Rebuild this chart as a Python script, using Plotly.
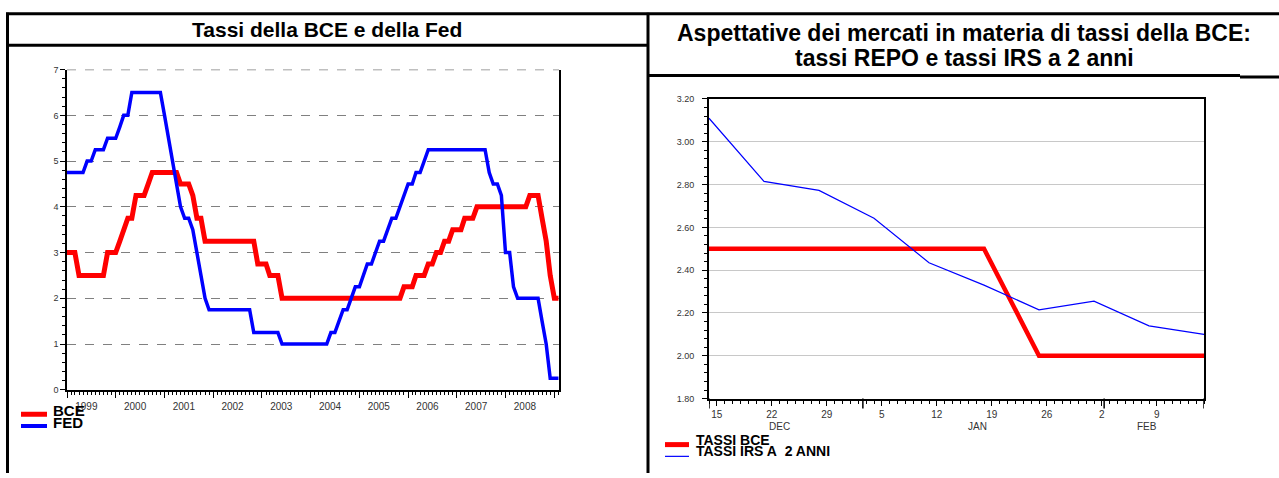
import pandas as pd
import plotly.graph_objects as go

W, H = 1279, 478

# ---------------- data: left chart (policy rates, level from month) ----------------
ecb_months = ["1999-01", "1999-04", "1999-11", "2000-02", "2000-03", "2000-04", "2000-06",
              "2000-09", "2000-10", "2001-05", "2001-08", "2001-09", "2001-11", "2002-12",
              "2003-03", "2003-06", "2005-12", "2006-03", "2006-06", "2006-08", "2006-10",
              "2006-12", "2007-03", "2007-06", "2008-07", "2008-10", "2008-11", "2008-12",
              "2009-01"]
ecb_levels = [3.00, 2.50, 3.00, 3.25, 3.50, 3.75, 4.25, 4.50, 4.75, 4.50, 4.25, 3.75, 3.25,
              2.75, 2.50, 2.00, 2.25, 2.50, 2.75, 3.00, 3.25, 3.50, 3.75, 4.00, 4.25, 3.75,
              3.25, 2.50, 2.00]

fed_months = ["1999-01", "1999-06", "1999-08", "1999-11", "2000-02", "2000-03", "2000-05",
              "2001-01", "2001-02", "2001-03", "2001-04", "2001-05", "2001-06", "2001-08",
              "2001-09", "2001-10", "2001-11", "2001-12", "2002-11", "2003-06", "2004-06",
              "2004-08", "2004-09", "2004-11", "2004-12", "2005-02", "2005-03", "2005-05",
              "2005-06", "2005-08", "2005-09", "2005-11", "2005-12", "2006-01", "2006-03",
              "2006-05", "2006-06", "2007-09", "2007-10", "2007-12", "2008-01", "2008-03",
              "2008-04", "2008-10", "2008-11", "2008-12"]
fed_levels = [4.75, 5.00, 5.25, 5.50, 5.75, 6.00, 6.50, 6.00, 5.50, 5.00, 4.50, 4.00, 3.75,
              3.50, 3.00, 2.50, 2.00, 1.75, 1.25, 1.00, 1.25, 1.50, 1.75, 2.00, 2.25, 2.50,
              2.75, 3.00, 3.25, 3.50, 3.75, 4.00, 4.25, 4.50, 4.75, 5.00, 5.25, 4.75, 4.50,
              4.25, 3.00, 2.25, 2.00, 1.50, 1.00, 0.25]

series_start, series_end = "1999-01", "2009-02"
left_ticks_y = [0, 1, 2, 3, 4, 5, 6, 7]

# ---------------- data: right chart (weekly) ----------------
week_dates = ["2008-12-14", "2008-12-21", "2008-12-28", "2009-01-04", "2009-01-11",
              "2009-01-18", "2009-01-25", "2009-02-01", "2009-02-08", "2009-02-15"]
tassi_bce = [2.50, 2.50, 2.50, 2.50, 2.50, 2.50, 2.00, 2.00, 2.00, 2.00]
tassi_irs = [3.11, 2.815, 2.773, 2.643, 2.435, 2.33, 2.215, 2.255, 2.14, 2.10]
week_label_dates = ["2008-12-15", "2008-12-22", "2008-12-29", "2009-01-05", "2009-01-12",
                    "2009-01-19", "2009-01-26", "2009-02-02", "2009-02-09"]
week_labels = ["15", "22", "29", "5", "12", "19", "26", "2", "9"]
month_labels = ["DEC", "JAN", "FEB"]


def monthly(months, levels):
    idx = pd.period_range(series_start, series_end, freq="M")
    s = pd.Series(levels, index=pd.PeriodIndex(months, freq="M"))
    s = s.reindex(idx).ffill()
    return [p.to_timestamp() for p in idx], s.values.tolist()


ecb_x, ecb_y = monthly(ecb_months, ecb_levels)
fed_x, fed_y = monthly(fed_months, fed_levels)


def X(px):
    return px / W


def Y(py):
    return 1 - py / H


FONT = "Liberation Sans, Arial, sans-serif"

fig = go.Figure()

fig.add_trace(go.Scatter(x=ecb_x, y=ecb_y, mode="lines", name="BCE",
                         line=dict(color="#ff0000", width=5), xaxis="x", yaxis="y",
                         showlegend=False))
fig.add_trace(go.Scatter(x=fed_x, y=fed_y, mode="lines", name="FED",
                         line=dict(color="#0000ff", width=3.5), xaxis="x", yaxis="y",
                         showlegend=False))

fig.add_trace(go.Scatter(x=week_dates, y=tassi_bce, mode="lines", name="TASSI BCE",
                         line=dict(color="#ff0000", width=4.5), xaxis="x2", yaxis="y2",
                         showlegend=False))
fig.add_trace(go.Scatter(x=week_dates, y=tassi_irs, mode="lines", name="TASSI IRS A 2 ANNI",
                         line=dict(color="#0000ff", width=1.2), xaxis="x2", yaxis="y2",
                         showlegend=False))

tickfont = dict(family=FONT, size=10, color="#333333")

fig.update_layout(
    width=W, height=H,
    margin=dict(l=0, r=0, t=0, b=0),
    paper_bgcolor="white", plot_bgcolor="white",
    font=dict(family=FONT),
    xaxis=dict(
        domain=[X(67), X(559)], anchor="y", type="date",
        range=["1999-01-01", "2009-02-05"],
        tick0="1999-01-01", dtick="M12", ticklabelmode="period", tickformat="%Y",
        ticklabelshift=-5,
        ticks="outside", ticklen=6, tickcolor="black", tickwidth=1,
        minor=dict(dtick="M1", ticks="outside", ticklen=3, tickcolor="black", showgrid=False),
        showgrid=False, showline=True, linecolor="black", linewidth=1.5,
        tickfont=tickfont, zeroline=False,
    ),
    yaxis=dict(
        domain=[Y(393), Y(66)], anchor="x", range=[0, 7],
        tickvals=left_ticks_y, ticks="outside", ticklen=5, tickcolor="black",
        minor=dict(dtick=0.2, ticks="outside", ticklen=3, tickcolor="black", showgrid=False),
        showgrid=True, gridcolor="#808080", griddash="dash", gridwidth=1,
        showline=True, linecolor="black", linewidth=1.5, mirror=True,
        tickfont=dict(family=FONT, size=9, color="#333333"), zeroline=False,
    ),
    xaxis2=dict(
        domain=[X(709), X(1204)], anchor="y2", type="date",
        range=["2008-12-14", "2009-02-15"],
        tickvals=week_label_dates, ticktext=week_labels,
        ticks="outside", ticklen=5, tickcolor="black",
        minor=dict(dtick=86400000, tick0="2008-12-14", ticks="outside", ticklen=3,
                   tickcolor="black", showgrid=False),
        showgrid=False, showline=True, linecolor="black", linewidth=2, mirror=True,
        tickfont=tickfont, zeroline=False,
    ),
    yaxis2=dict(
        domain=[Y(402), Y(96)], anchor="x2", range=[1.8, 3.2],
        dtick=0.2, tick0=1.8, tickformat=".2f",
        ticks="outside", ticklen=5, tickcolor="black",
        minor=dict(dtick=0.04, ticks="outside", ticklen=3, tickcolor="black", showgrid=False),
        showgrid=True, gridcolor="#c8c8c8", gridwidth=1,
        showline=True, linecolor="black", linewidth=2, mirror=True,
        tickfont=dict(family=FONT, size=9, color="#333333"), zeroline=False,
        ticklabelstandoff=6,
    ),
)

shapes = []
BL = dict(color="black", width=3)
# table frame
shapes.append(dict(type="line", xref="paper", yref="paper", x0=X(6), x1=X(1279), y0=Y(9), y1=Y(9), line=BL))
shapes.append(dict(type="line", xref="paper", yref="paper", x0=X(7.5), x1=X(7.5), y0=Y(8), y1=Y(478), line=BL))
shapes.append(dict(type="line", xref="paper", yref="paper", x0=X(648), x1=X(648), y0=Y(8), y1=Y(478), line=BL))
shapes.append(dict(type="line", xref="paper", yref="paper", x0=X(7), x1=X(648), y0=Y(41), y1=Y(41), line=BL))
shapes.append(dict(type="line", xref="paper", yref="paper", x0=X(648), x1=X(1240), y0=Y(72), y1=Y(72), line=BL))
shapes.append(dict(type="line", xref="paper", yref="paper", x0=X(1240), x1=X(1279), y0=Y(73.5), y1=Y(73.5), line=BL))

# dashed top edge of the left plot (grid at 7)
shapes.append(dict(type="line", xref="x domain", yref="y", x0=0, x1=1, y0=7, y1=7,
                   line=dict(color="#808080", width=1.5, dash="dash"), layer="below"))

# long ticks on right x axis (axis ends and month boundaries)
for d in ["2008-12-14", "2009-01-02 14:00", "2009-02-02 07:00", "2009-02-15"]:
    shapes.append(dict(type="line", xref="x2", yref="paper", x0=d, x1=d, y0=Y(402), y1=Y(412),
                       line=dict(color="black", width=1.5)))

# legend swatches
shapes.append(dict(type="line", xref="paper", yref="paper", x0=X(21), x1=X(47), y0=Y(418), y1=Y(418),
                   line=dict(color="#ff0000", width=5)))
shapes.append(dict(type="line", xref="paper", yref="paper", x0=X(21), x1=X(47), y0=Y(430), y1=Y(430),
                   line=dict(color="#0000ff", width=4)))
shapes.append(dict(type="line", xref="paper", yref="paper", x0=X(665), x1=X(689), y0=Y(449), y1=Y(449),
                   line=dict(color="#ff0000", width=5)))
shapes.append(dict(type="line", xref="paper", yref="paper", x0=X(665), x1=X(689), y0=Y(461), y1=Y(461),
                   line=dict(color="#0000ff", width=1.2)))

fig.update_layout(shapes=shapes)

ann = []
ann.append(dict(text="<b>Tassi della BCE e della Fed</b>", xref="paper", yref="paper",
                x=X(327), y=Y(25), xanchor="center", yanchor="middle", showarrow=False,
                font=dict(family=FONT, size=21, color="black")))
ann.append(dict(text="<b>Aspettative dei mercati in materia di tassi della BCE:</b>", xref="paper",
                yref="paper", x=X(964), y=Y(29), xanchor="center", yanchor="middle",
                showarrow=False, font=dict(family=FONT, size=23, color="black")))
ann.append(dict(text="<b>tassi REPO e tassi IRS a 2 anni</b>", xref="paper", yref="paper",
                x=X(964), y=Y(54), xanchor="center", yanchor="middle", showarrow=False,
                font=dict(family=FONT, size=23, color="black")))

LEG = dict(family=FONT, size=15, color="black")
ann.append(dict(text="<b>BCE</b>", xref="paper", yref="paper", x=X(51), y=Y(414),
                xanchor="left", yanchor="middle", showarrow=False, font=LEG))
ann.append(dict(text="<b>FED</b>", xref="paper", yref="paper", x=X(51), y=Y(426),
                xanchor="left", yanchor="middle", showarrow=False, font=LEG))
ann.append(dict(text="<b>TASSI BCE</b>", xref="paper", yref="paper", x=X(694), y=Y(444),
                xanchor="left", yanchor="middle", showarrow=False, font=dict(family=FONT, size=14, color="black")))
ann.append(dict(text="<b>TASSI IRS A\u00a0 2 ANNI</b>", xref="paper", yref="paper", x=X(694), y=Y(456),
                xanchor="left", yanchor="middle", showarrow=False, font=dict(family=FONT, size=14, color="black")))

for lab, pxx in zip(month_labels, [779, 977, 1147]):
    ann.append(dict(text=lab, xref="paper", yref="paper", x=X(pxx), y=Y(431),
                    xanchor="center", yanchor="middle", showarrow=False, font=tickfont))

fig.update_layout(annotations=ann)

fig.write_html("out.html")
